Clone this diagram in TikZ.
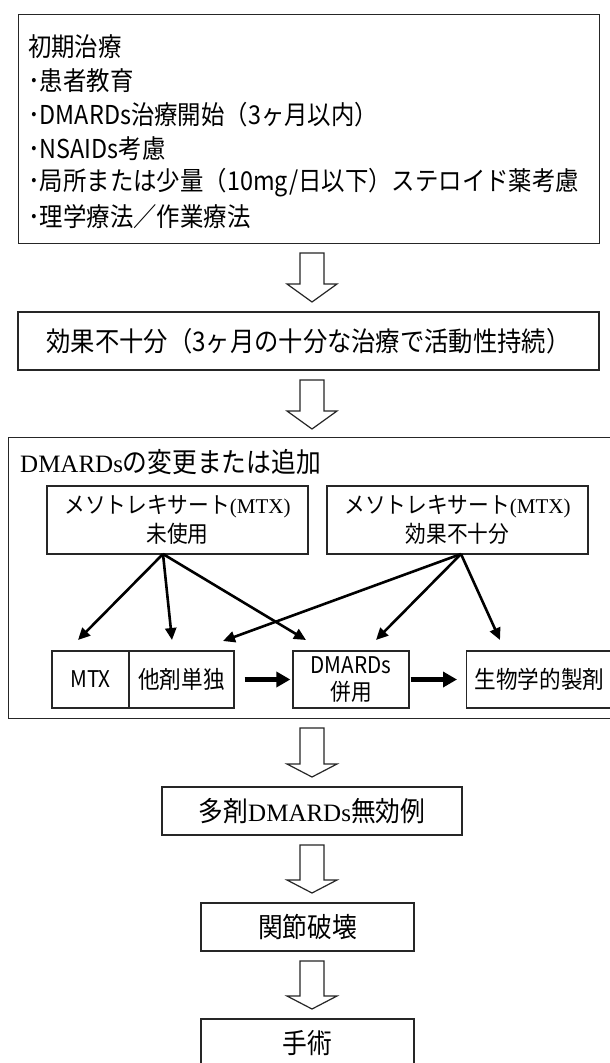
\documentclass[tikz,border=0pt]{standalone}
\usepackage{fontspec}
\newfontfamily\jp[FakeStretch=0.9]{Noto Sans CJK JP}
\newfontfamily\ser{Liberation Serif}
\usetikzlibrary{arrows.meta,calc}
% hollow block arrow from #2 to #3, head height #1
\newcommand\hollowarrow[3][14pt]{%
  \draw[harrow] let \p1=(#2), \p2=(#3) in
   (\x1-12pt,\y1) -- (\x1+12pt,\y1) -- (\x1+12pt,\y2+#1) -- (\x1+25pt,\y2+#1)
   -- (\x1,\y2) -- (\x1-25pt,\y2+#1) -- (\x1-12pt,\y2+#1) -- cycle;}
\begin{document}
\begin{tikzpicture}[x=1pt,y=1pt,
  box/.style={draw=black!85, line width=1.3pt, inner sep=0pt, font=\jp, align=center},
  txt/.style={inner sep=0pt, font=\jp\fontsize{26}{32}\selectfont, anchor=west},
  harrow/.style={draw=black!85, line width=1.2pt, fill=white, line join=miter},
  thin/.style={draw=black, line width=2.6pt, -{Triangle[length=12pt,width=11pt]}},
  thick/.style={draw=black, line width=4.5pt, -{Triangle[length=14pt,width=15pt]}},
  f27/.style={font=\jp\fontsize{27}{30}\selectfont},
  f23/.style={font=\jp\fontsize{23}{29}\selectfont},
  f24/.style={font=\jp\fontsize{24}{29}\selectfont},
  fbig/.style={font=\jp\fontsize{27.5}{30}\selectfont}]
\useasboundingbox (0,0) rectangle (610,-1063);
\fill[white] (0,0) rectangle (610,-1063);
\clip (0,0) rectangle (610,-1063);

% Box 1
\node[box, minimum width=581, minimum height=229, anchor=north west] (b1) at (18,-14) {};
\node[txt] (l1) at (28,-47) {初期治療};
\node[txt] (l2) at (28,-81) {･患者教育};
\node[txt] (l3) at (28,-115) {･DMARDs治療開始（3ヶ月以内）};
\node[txt] (l4) at (28,-149) {･NSAIDs考慮};
\node[txt] (l5) at (28,-183) {･局所または少量（10mg/日以下）ステロイド薬考慮};
\node[txt] (l6) at (28,-217) {･理学療法／作業療法};

% Box 2
\node[box, f27, minimum width=581, minimum height=58] (b2) at (308.5,-341) {効果不十分（3ヶ月の十分な治療で活動性持続）};

\coordinate (a1s) at (312,-253); \coordinate (a1e) at (312,-302);
\coordinate (a2s) at (312,-380); \coordinate (a2e) at (312,-429);
\hollowarrow[18pt]{a1s}{a1e}
\hollowarrow[18pt]{a2s}{a2e}

% Outer DMARDs box
\node[box, minimum width=617, minimum height=281, anchor=north west] (outer) at (8,-437) {};
\node[inner sep=0pt, anchor=west, font=\jp\fontsize{27.5}{30}\selectfont] (title) at (20,-462) {{\ser\fontsize{25}{30}\selectfont DMARDs}の変更または追加};

\node[box, f23, minimum width=261, minimum height=68] (mA) at (177.5,-520) {メソトレキサート{\ser\fontsize{21}{29}\selectfont (MTX)}\\未使用};
\node[box, f23, minimum width=261, minimum height=68] (mB) at (457.5,-520) {メソトレキサート{\ser\fontsize{21}{29}\selectfont (MTX)}\\効果不十分};

\node[box, f23, minimum width=77, minimum height=57] (mtx) at (90.5,-679.5) {MTX};
\node[box, f24, minimum width=105, minimum height=57] (oth) at (181.5,-679.5) {他剤単独};
\node[box, f23, minimum width=116, minimum height=57, font=\jp\fontsize{23}{27}\selectfont] (comb) at (351,-679.5) {DMARDs\\併用};
\node[box, f24, minimum height=57, inner xsep=8pt, anchor=west] (bio) at (466,-679.5) {生物学的製剤\hspace{12pt}};

\coordinate (oA) at (163,-554);
\coordinate (oB) at (461,-554);
\coordinate (tMTX) at (78,-640);
\coordinate (tOth) at (172,-640);
\coordinate (tCombL) at (306,-640);
\coordinate (tOthR) at (223,-641);
\coordinate (tCombR) at (376,-640);
\coordinate (tBio) at (500,-640);
\draw[thin] (oA) -- (tMTX);
\draw[thin] (oA) -- (tOth);
\draw[thin] (oA) -- (tCombL);
\draw[thin] (oB) -- (tOthR);
\draw[thin] (oB) -- (tCombR);
\draw[thin] (oB) -- (tBio);

\draw[thick, shorten <=10pt, shorten >=2pt] (oth.east) -- (comb.west);
\draw[thick, shorten <=1pt, shorten >=9pt] (comb.east) -- (bio.west);

% Lower chain
\coordinate (a3s) at (312,-728); \coordinate (a3e) at (312,-777);
\hollowarrow[13pt]{a3s}{a3e}
\node[box, minimum width=300, minimum height=48, fbig] (multi) at (312,-811) {多剤{\ser\fontsize{25}{30}\selectfont DMARDs}無効例};
\coordinate (a4s) at (312,-845); \coordinate (a4e) at (312,-893);
\hollowarrow[13pt]{a4s}{a4e}
\node[box, minimum width=213, minimum height=48, fbig] (joint) at (307.5,-927) {関節破壊};
\coordinate (a5s) at (312,-961); \coordinate (a5e) at (312,-1009);
\hollowarrow[13pt]{a5s}{a5e}
\node[box, minimum width=213, minimum height=48, fbig] (surg) at (307.5,-1043) {手術};
\end{tikzpicture}
\end{document}
